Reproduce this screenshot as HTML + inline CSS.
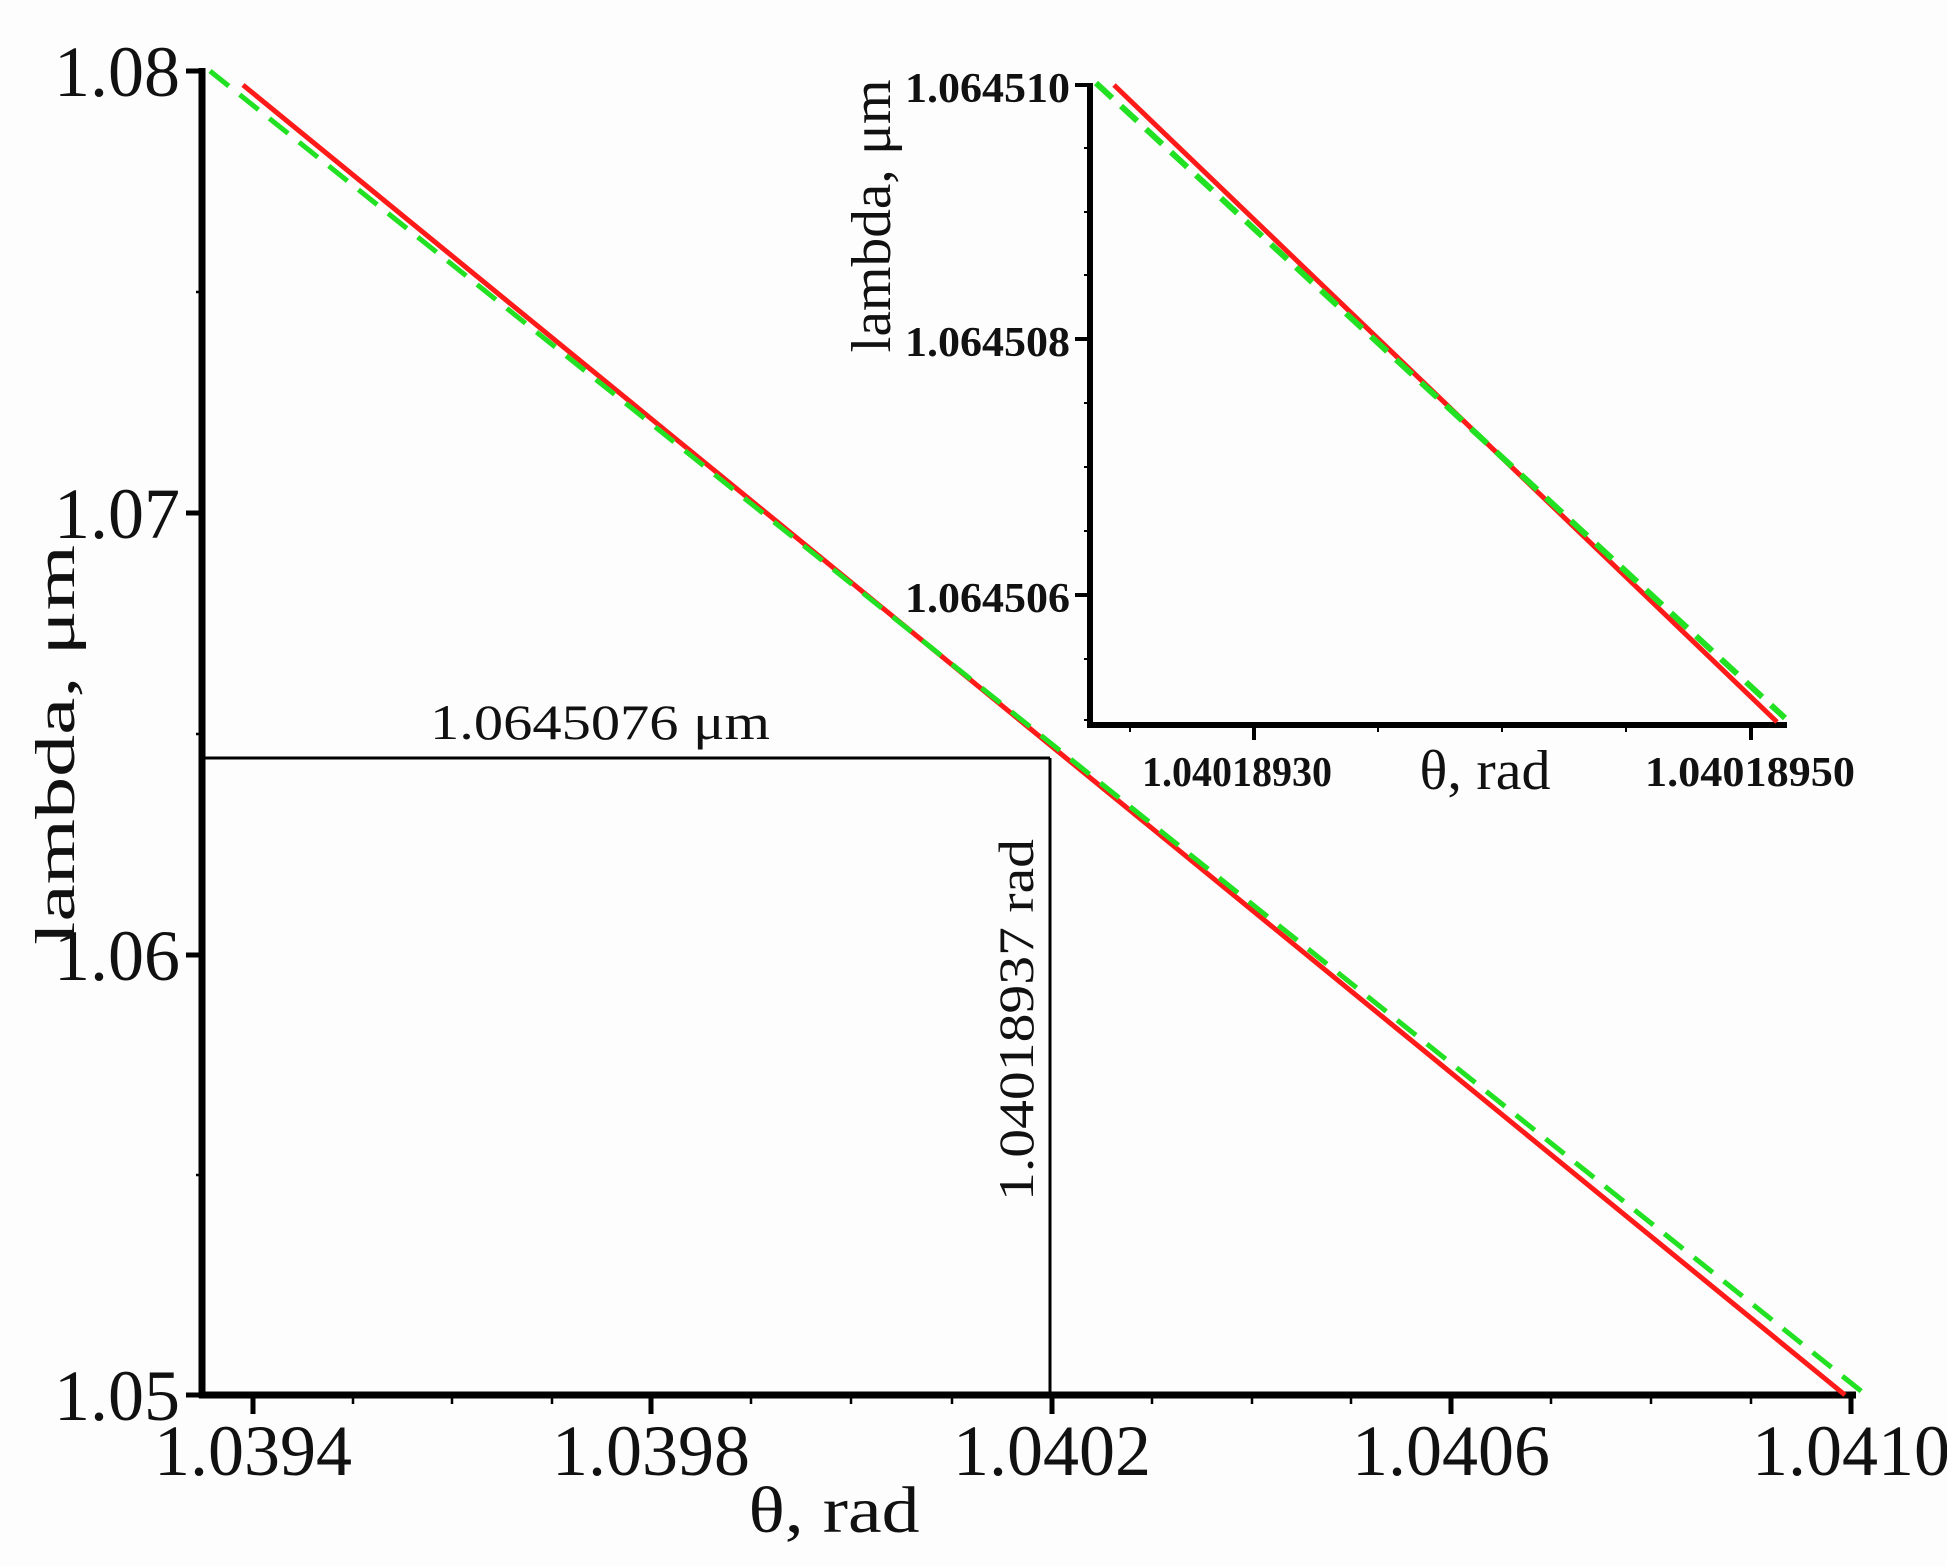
<!DOCTYPE html>
<html><head><meta charset="utf-8"><style>
html,body{margin:0;padding:0;background:#fff;}
svg{display:block;}
text{font-family:"Liberation Serif","DejaVu Serif",serif;fill:#111;}
</style></head><body>
<svg width="1947" height="1567" viewBox="0 0 1947 1567" xmlns="http://www.w3.org/2000/svg">
<rect width="1947" height="1567" fill="#fdfdfd"/>
<g stroke="#000" fill="none">
<line x1="202" y1="68" x2="202" y2="1398" stroke-width="7"/>
<line x1="199" y1="1395" x2="1856" y2="1395" stroke-width="7"/>
<g stroke-width="5">
<line x1="186" y1="71" x2="202" y2="71"/>
<line x1="186" y1="513" x2="202" y2="513"/>
<line x1="186" y1="955" x2="202" y2="955"/>
<line x1="186" y1="1395" x2="202" y2="1395"/>
</g>
<g stroke-width="2.5">
<line x1="196" y1="292" x2="202" y2="292"/>
<line x1="196" y1="734" x2="202" y2="734"/>
<line x1="196" y1="1175" x2="202" y2="1175"/>
</g>
<g stroke-width="5">
<line x1="253" y1="1395" x2="253" y2="1414"/>
<line x1="651" y1="1395" x2="651" y2="1414"/>
<line x1="1052" y1="1395" x2="1052" y2="1414"/>
<line x1="1451" y1="1395" x2="1451" y2="1414"/>
<line x1="1851" y1="1395" x2="1851" y2="1414"/>
</g>
<g stroke-width="2.5">
<line x1="353" y1="1395" x2="353" y2="1404"/>
<line x1="452" y1="1395" x2="452" y2="1404"/>
<line x1="552" y1="1395" x2="552" y2="1404"/>
<line x1="751" y1="1395" x2="751" y2="1404"/>
<line x1="851" y1="1395" x2="851" y2="1404"/>
<line x1="952" y1="1395" x2="952" y2="1404"/>
<line x1="1152" y1="1395" x2="1152" y2="1404"/>
<line x1="1252" y1="1395" x2="1252" y2="1404"/>
<line x1="1351" y1="1395" x2="1351" y2="1404"/>
<line x1="1551" y1="1395" x2="1551" y2="1404"/>
<line x1="1651" y1="1395" x2="1651" y2="1404"/>
<line x1="1751" y1="1395" x2="1751" y2="1404"/>
</g>
<line x1="202" y1="758" x2="1050" y2="758" stroke-width="3"/>
<line x1="1050" y1="758" x2="1050" y2="1395" stroke-width="3"/>
</g>
<line x1="243" y1="85" x2="1845" y2="1395" stroke="#ff1a1a" stroke-width="5"/>
<line x1="210" y1="71" x2="1866" y2="1395" stroke="#22e022" stroke-width="5" stroke-dasharray="24,14"/>
<g font-size="72">
<text x="180" y="96" text-anchor="end">1.08</text>
<text x="180" y="538" text-anchor="end">1.07</text>
<text x="180" y="980" text-anchor="end">1.06</text>
<text x="180" y="1420" text-anchor="end">1.05</text>
<text x="253" y="1475" text-anchor="middle">1.0394</text>
<text x="651" y="1475" text-anchor="middle">1.0398</text>
<text x="1052" y="1475" text-anchor="middle">1.0402</text>
<text x="1451" y="1475" text-anchor="middle">1.0406</text>
<text x="1851" y="1475" text-anchor="middle">1.0410</text>
</g>
<text x="834" y="1532" font-size="66" text-anchor="middle" textLength="171" lengthAdjust="spacingAndGlyphs">θ, rad</text>
<text transform="translate(74,745) rotate(-90)" font-size="56" text-anchor="middle" textLength="400" lengthAdjust="spacingAndGlyphs">lambda, μm</text>
<text x="600" y="739" font-size="50" text-anchor="middle" textLength="340" lengthAdjust="spacingAndGlyphs">1.0645076 μm</text>
<text transform="translate(1033,1020) rotate(-90)" font-size="50" text-anchor="middle" textLength="362" lengthAdjust="spacingAndGlyphs">1.04018937 rad</text>
<g stroke="#000" fill="none">
<line x1="1090" y1="83" x2="1090" y2="728" stroke-width="6"/>
<line x1="1087" y1="725" x2="1787" y2="725" stroke-width="6"/>
<g stroke-width="4">
<line x1="1075" y1="85" x2="1090" y2="85"/>
<line x1="1075" y1="339" x2="1090" y2="339"/>
<line x1="1075" y1="595" x2="1090" y2="595"/>
<line x1="1254" y1="725" x2="1254" y2="740"/>
<line x1="1751" y1="725" x2="1751" y2="740"/>
</g>
<g stroke-width="2">
<line x1="1084" y1="148" x2="1090" y2="148"/>
<line x1="1084" y1="212" x2="1090" y2="212"/>
<line x1="1084" y1="275" x2="1090" y2="275"/>
<line x1="1084" y1="403" x2="1090" y2="403"/>
<line x1="1084" y1="467" x2="1090" y2="467"/>
<line x1="1084" y1="531" x2="1090" y2="531"/>
<line x1="1084" y1="659" x2="1090" y2="659"/>
<line x1="1084" y1="720" x2="1090" y2="720"/>
<line x1="1130" y1="725" x2="1130" y2="732"/>
<line x1="1378" y1="725" x2="1378" y2="732"/>
<line x1="1502" y1="725" x2="1502" y2="732"/>
<line x1="1626" y1="725" x2="1626" y2="732"/>
</g>
</g>
<line x1="1114" y1="85" x2="1777" y2="722" stroke="#ff1a1a" stroke-width="5"/>
<line x1="1096" y1="83" x2="1785" y2="718" stroke="#22e022" stroke-width="6" stroke-dasharray="22,12"/>
<g font-size="42" font-weight="bold">
<text x="1070" y="102" text-anchor="end" textLength="165" lengthAdjust="spacingAndGlyphs">1.064510</text>
<text x="1070" y="356" text-anchor="end" textLength="165" lengthAdjust="spacingAndGlyphs">1.064508</text>
<text x="1070" y="612" text-anchor="end" textLength="165" lengthAdjust="spacingAndGlyphs">1.064506</text>
<text x="1237" y="786" text-anchor="middle" textLength="190" lengthAdjust="spacingAndGlyphs">1.04018930</text>
<text x="1750" y="786" text-anchor="middle" textLength="210" lengthAdjust="spacingAndGlyphs">1.04018950</text>
</g>
<text x="1485" y="789" font-size="56" text-anchor="middle" textLength="131" lengthAdjust="spacingAndGlyphs">θ, rad</text>
<text transform="translate(890,216) rotate(-90)" font-size="56" text-anchor="middle" textLength="273" lengthAdjust="spacingAndGlyphs">lambda, μm</text>
</svg>
</body></html>
